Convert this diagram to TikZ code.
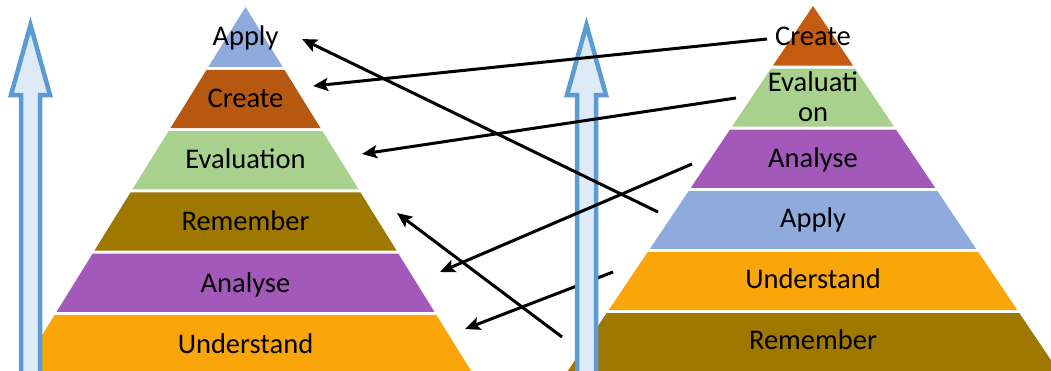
\documentclass[tikz,border=0pt]{standalone}
\usepackage{fontspec}
\setmainfont{Carlito}
\usetikzlibrary{arrows.meta}

\definecolor{applyc}{RGB}{143,170,220}
\definecolor{createc}{RGB}{182,88,16}
\definecolor{creater}{RGB}{197,90,17}
\definecolor{evalc}{RGB}{169,209,142}
\definecolor{rememberc}{RGB}{159,120,0}
\definecolor{analysec}{RGB}{162,89,185}
\definecolor{understandc}{RGB}{250,165,10}
\definecolor{arrowline}{RGB}{91,155,213}
\definecolor{arrowfill}{RGB}{222,235,247}

\begin{document}
\begin{tikzpicture} [
    x=1pt, y=-1pt,
    lvl/.style={font=\fontsize{28.5}{30}\selectfont, anchor=base, inner sep=0pt, align=center},
    uparrow/.style={draw=arrowline, fill=arrowfill, line width=4.5pt},
    link/.style={draw, line width=3pt, -{Stealth[length=15pt, width=13pt, inset=3pt]}}
]
    \useasboundingbox (0,0) rectangle (1051,370);
    \clip (0,0) rectangle (1051,370);

    % Left pyramid
    \fill[applyc] (245.5,7) -- (282.55,66.75) -- (208.45,66.75) -- cycle;
    \fill[createc] (206.6,69.75) -- (284.4,69.75) -- (320.5,128) -- (170.5,128) -- cycle;
    \fill[evalc] (168.6,131) -- (322.4,131) -- (358.5,189.25) -- (132.5,189.25) -- cycle;
    \fill[rememberc] (130.6,192.25) -- (360.4,192.25) -- (396.5,250.5) -- (94.5,250.5) -- cycle;
    \fill[analysec] (92.7,253.5) -- (398.3,253.5) -- (434.4,311.75) -- (56.6,311.75) -- cycle;
    \fill[understandc] (54.7,314.75) -- (436.3,314.75) -- (476.8,380) -- (14.2,380) -- cycle;

    % Right pyramid
    \fill[creater] (813,6) -- (853.05,65.6) -- (772.95,65.6) -- cycle;
    \fill[evalc] (770.9,68.6) -- (855.1,68.6) -- (894.1,126.7) -- (731.9,126.7) -- cycle;
    \fill[analysec] (729.9,129.7) -- (896.1,129.7) -- (935.2,187.8) -- (690.8,187.8) -- cycle;
    \fill[applyc] (688.8,190.8) -- (937.2,190.8) -- (976.2,248.9) -- (649.8,248.9) -- cycle;
    \fill[understandc] (647.8,251.9) -- (978.2,251.9) -- (1017.3,310) -- (608.7,310) -- cycle;
    \fill[rememberc] (606.7,313) -- (1019.3,313) -- (1064.3,380) -- (561.7,380) -- cycle;

    % Nodes
    \node[lvl] (lApply) at (245.5,45) {Apply};
    \node[lvl] (lCreate) at (245.5,107) {Create};
    \node[lvl] (lEval) at (245.5,168) {Evaluation};
    \node[lvl] (lRemember) at (245.5,230) {Remember};
    \node[lvl] (lAnalyse) at (245.5,292) {Analyse};
    \node[lvl] (lUnderstand) at (245.5,353) {Understand};

    \node[lvl] (rCreate) at (813,45) {Create};
    \node[lvl] (rEval) at (813,121) {Evaluati\\on};
    \node[lvl] (rAnalyse) at (813,167) {Analyse};
    \node[lvl] (rApply) at (813,227) {Apply};
    \node[lvl] (rUnderstand) at (813,288) {Understand};
    \node[lvl] (rRemember) at (813,349) {Remember};

    % Arrow ends
    \coordinate (rCreate-out) at (767,39);
    \coordinate (lCreate-in) at (313,86);
    \coordinate (rEval-out) at (736,98);
    \coordinate (lEval-in) at (362,154);
    \coordinate (rApply-out) at (658,212);
    \coordinate (lApply-in) at (302,39);
    \coordinate (rAnalyse-out) at (692,164);
    \coordinate (lAnalyse-in) at (440,272);
    \coordinate (rUnderstand-out) at (613,272);
    \coordinate (lUnderstand-in) at (465,329);
    \coordinate (rRemember-out) at (562,337);
    \coordinate (lRemember-in) at (397,213);

    % Arrows
    \path [link] (rUnderstand-out) -- (lUnderstand-in);

    \path [uparrow] (21,380) -- (21,95) -- (11,95) -- (30.5,25) -- (50,95) -- (40,95) -- (40,380) -- cycle;
    \path [uparrow] (577,380) -- (577,95) -- (567,95) -- (586.5,25) -- (606,95) -- (596,95) -- (596,380) -- cycle;

    \path [link] (rCreate-out) -- (lCreate-in);
    \path [link] (rEval-out) -- (lEval-in);
    \path [link] (rApply-out) -- (lApply-in);
    \path [link] (rAnalyse-out) -- (lAnalyse-in);
    \path [link] (rRemember-out) -- (lRemember-in);

\end{tikzpicture}
\end{document}
